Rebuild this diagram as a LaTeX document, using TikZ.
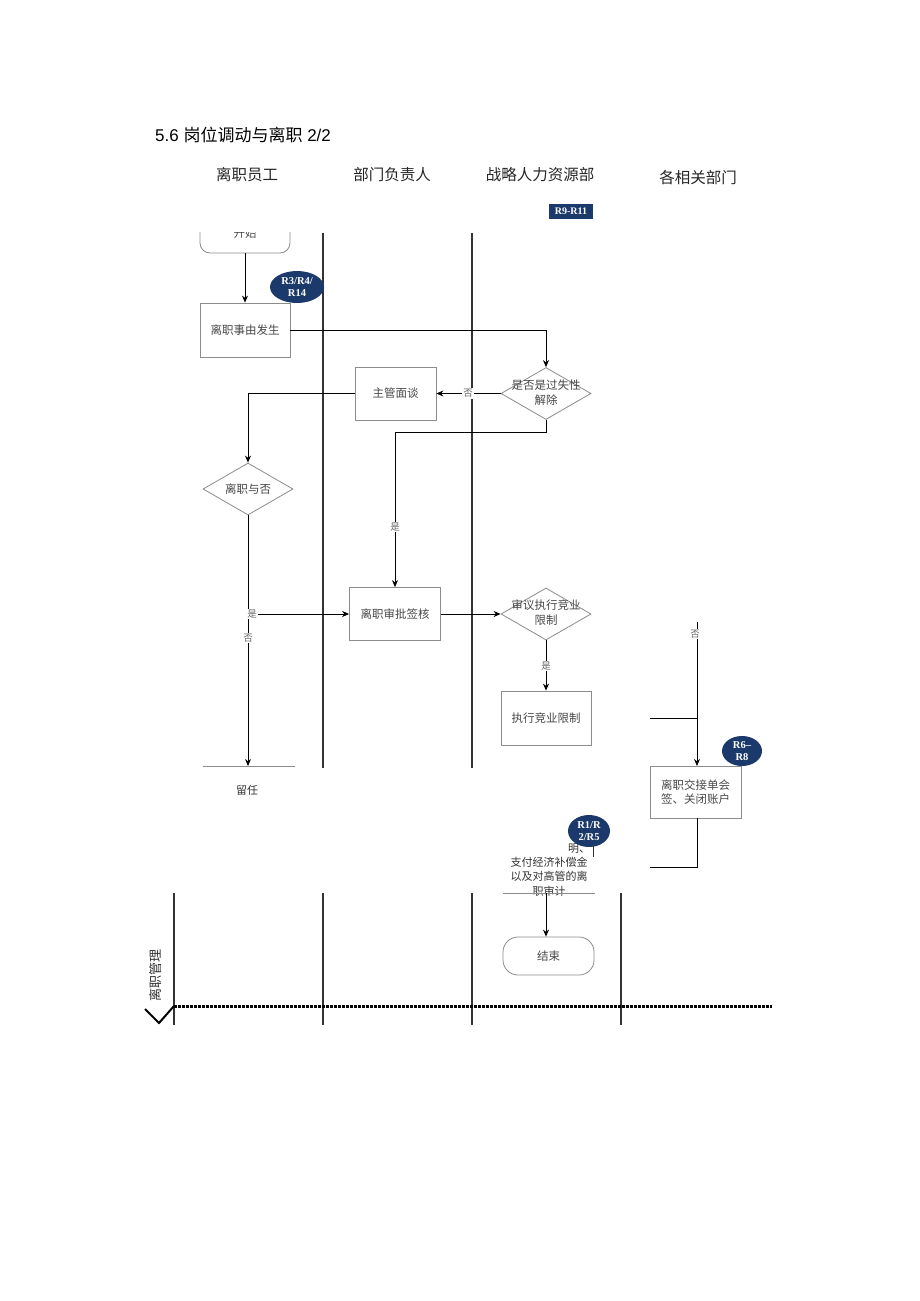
\documentclass[tikz,border=0pt]{standalone}
\usepackage{fontspec}
\setmainfont{Liberation Sans}
\newfontfamily\cjk{Noto Sans CJK SC}
\newfontfamily\bser{Liberation Serif}
\usetikzlibrary{arrows.meta,shapes.geometric}
\definecolor{navy}{HTML}{1B3A6B}
\begin{document}
\begin{tikzpicture}[x=1pt,y=-1pt,
 every node/.style={inner sep=0pt},
 flowbox/.style={draw=black!45, line width=0.8pt, text=black!72, font=\cjk\fontsize{11.5}{14}\selectfont, align=center},
 dia/.style={draw=black!45, line width=0.8pt, diamond, minimum width=90pt, minimum height=52pt, inner sep=0pt},
 dtext/.style={text=black!72, font=\cjk\fontsize{11.5}{15}\selectfont, align=center},
 badge/.style={ellipse, fill=navy, text=white, font=\bser\bfseries\fontsize{10.5}{12}\selectfont, align=center, inner sep=0pt},
 lane/.style={draw=black!80, line width=1.4pt},
 conn/.style={draw=black, line width=0.9pt},
 arr/.style={conn, -{Stealth[length=7pt,width=6pt]}},
 lbl/.style={fill=white, text=black!60, font=\cjk\fontsize{9.5}{10}\selectfont, inner sep=1pt},
 head/.style={font=\cjk\fontsize{15.5}{18}\selectfont, text=black!85},
 plain/.style={text=black!80, font=\cjk\fontsize{11}{14.5}\selectfont, align=center}
]
\fill[white] (0,0) rectangle (920,1301);
\useasboundingbox (0,0) rectangle (920,1301);

% title and headers
\node[anchor=west, font=\fontsize{17}{20}\selectfont] (title) at (155,135) {5.6 {\cjk 岗位调动与离职} 2/2};
\node[head] (h1) at (247,175) {离职员工};
\node[head] (h2) at (392,175) {部门负责人};
\node[head] (h3) at (540,175) {战略人力资源部};
\node[head] (h4) at (698,178) {各相关部门};
\node[fill=navy, text=white, font=\bser\bfseries\fontsize{10}{11}\selectfont, minimum width=44pt, minimum height=15pt] (b911) at (571,211.5) {R9-R11};

% lane lines
\draw[lane] (323,233) -- (323,768);
\draw[lane] (472,233) -- (472,768);
\foreach \x in {174,323,472,621} \draw[lane] (\x,893) -- (\x,1025);

% start (clipped)
\begin{scope}
\clip (180,232) rectangle (310,270);
\node[flowbox, rounded corners=10pt, minimum width=90pt, minimum height=40pt] (start) at (245,233) {开始};
\end{scope}

% nodes
\node[flowbox, minimum width=90pt, minimum height=54pt] (ev) at (245,330) {离职事由发生};
\node[badge, minimum width=54pt, minimum height=32pt] (b34) at (297,287) {R3/R4/\\R14};
\node[dia] (d1) at (546,393.5) {};
\node[dtext] (d1t) at (546,393) {是否是过失性\\解除};
\node[flowbox, minimum width=81pt, minimum height=53pt] (talk) at (395.5,393.5) {主管面谈};
\node[dia] (d2) at (248,489) {};
\node[dtext] (d2t) at (248,489) {离职与否};
\node[flowbox, minimum width=91pt, minimum height=53pt] (appr) at (395,614) {离职审批签核};
\node[dia] (d3) at (546,614) {};
\node[dtext] (d3t) at (546,613) {审议执行竞业\\限制};
\node[flowbox, minimum width=90pt, minimum height=54pt] (exec) at (546,718) {执行竞业限制};
\node[flowbox, minimum width=91pt, minimum height=52pt] (hand) at (695.5,792) {离职交接单会\\签、关闭账户};
\node[badge, minimum width=40pt, minimum height=30pt] (b68) at (742,751) {R6–\\R8};
\node[plain] (ming) at (579,848.5) {明、};
\node[badge, minimum width=42pt, minimum height=32pt] (b125) at (589,831) {R1/R\\2/R5};
\node[plain] (stay) at (247,790) {留任};
\coordinate (stayTop) at (248,766);
\draw[draw=black!45, line width=0.8pt] (203,766) -- (295,766);
\node[plain] (pay) at (549,876.5) {支付经济补偿金\\以及对高管的离\\职审计};
\draw[draw=black!80, line width=0.8pt] (593,845) -- (593,857);
\coordinate (payTop) at (546,893);
\draw[draw=black!45, line width=0.8pt] (503,893) -- (595,893);
\node[flowbox, rounded corners=15pt, minimum width=91pt, minimum height=38pt] (endn) at (548.5,956) {结束};

% connectors
\draw[arr] (245,253) -- (ev.north);
\draw[arr] (ev.east) -- (546,330) -- (d1.north);
\draw[arr] (d1.west) -- (d1.west -| talk.east);
\node[lbl] (no1) at (468,393.5) {否};
\draw[arr] (talk.west) -- (248,393.5) -- (d2.north);
\draw[arr] (d1.south) -- (546,432) -- (395,432) -- (appr.north);
\node[lbl] (yes1) at (395,527) {是};
\draw[arr] (d2.south) -- (stayTop);
\draw[arr] (248,614) -- (appr.west);
\node[lbl] (yes2) at (252,614) {是};
\node[lbl] (no2) at (248,638) {否};
\draw[arr] (appr.east) -- (d3.west);
\draw[arr] (d3.south) -- (exec.north);
\node[lbl] (yes3) at (546,666) {是};
\coordinate (hTop) at (697,622);
\draw[arr] (hTop) -- (697,766);
\node[lbl] (no3) at (695,634) {否};
\coordinate (hLeft) at (650,718);
\draw[conn] (hLeft) -- (697,718);
\coordinate (hBot) at (650,867);
\draw[conn] (697,818) -- (697,867) -- (hBot);
\draw[arr] (payTop) -- (payTop |- endn.north);

% bottom band
\draw[line width=3pt, dash pattern=on 2.5pt off 1.5pt] (174,1006) -- (772,1006);
\draw[line width=2pt] (145,1009) -- (159,1023) -- (174,1006);
\node[rotate=90, font=\cjk\fontsize{13}{15}\selectfont, text=black!80] (sect) at (156,975) {离职管理};
\end{tikzpicture}
\end{document}
